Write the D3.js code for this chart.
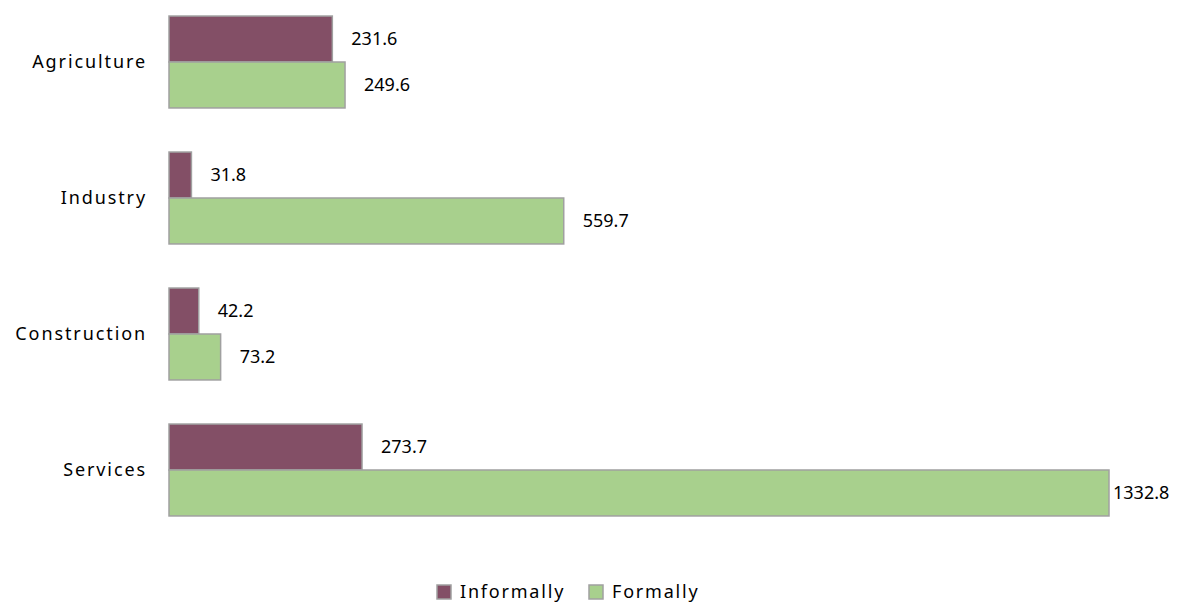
<!DOCTYPE html>
<html><head><meta charset="utf-8">
<script src="https://cdn.jsdelivr.net/npm/d3@7"></script>
<style>body{margin:0;background:#fff}svg{display:block}text{font-family:"Noto Sans",sans-serif;fill:#000}</style>
</head><body>
<script>
const categories = ["Agriculture", "Industry", "Construction", "Services"];
const seriesNames = ["Informally", "Formally"];
const informally = [231.6, 31.8, 42.2, 273.7];
const formally = [249.6, 559.7, 73.2, 1332.8];
const colors = ["#834F66", "#A8D08D"];

const W = 1186, H = 605;
const svg = d3.select("body").append("svg").attr("width", W).attr("height", H);

const x0 = 169, xMaxPx = 1109;
const x = d3.scaleLinear().domain([0, 1332.8]).range([x0, xMaxPx]);
const y = d3.scaleBand().domain(categories).range([-6, 538]).paddingInner(0.324).paddingOuter(0.162);
const ySub = d3.scaleBand().domain(seriesNames).range([0, y.bandwidth()]);

const data = categories.map((c, i) => ({cat: c, vals: [informally[i], formally[i]]}));

const g = svg.append("g");
data.forEach(d => {
  d.vals.forEach((v, j) => {
    const yy = y(d.cat) + ySub(seriesNames[j]);
    g.append("rect")
      .attr("x", x(0)).attr("y", yy)
      .attr("width", x(v) - x(0)).attr("height", ySub.bandwidth())
      .attr("fill", colors[j]).attr("stroke", "#a0a0a0").attr("stroke-width", 1.5);
  });
});
// value labels
data.forEach(d => {
  d.vals.forEach((v, j) => {
    const yy = y(d.cat) + ySub(seriesNames[j]) + ySub.bandwidth() / 2;
    const t = g.append("text").attr("y", yy).attr("dy", "0.35em")
      .attr("font-size", 18).text(v.toFixed(1));
    const w = t.node().getComputedTextLength();
    let tx = x(v) + 19;
    if (tx + w > W - 12) tx = x(v) + 4;
    t.attr("x", tx);
  });
});
// category axis labels
const yAxis = d3.axisLeft(y).tickSize(0).tickPadding(0);
const ax = svg.append("g").attr("transform", `translate(147,0)`).call(yAxis);
ax.select(".domain").remove();
ax.selectAll("text").attr("font-size", 18).style("font-family", '"Noto Sans",sans-serif')
  .style("letter-spacing", "1.9px").attr("fill", "#000");

// legend
const leg = svg.append("g");
const legX = [437, 589];
seriesNames.forEach((s, j) => {
  leg.append("rect").attr("x", legX[j]).attr("y", 585).attr("width", 14).attr("height", 14)
    .attr("fill", colors[j]).attr("stroke", "#a0a0a0").attr("stroke-width", 1.5);
  leg.append("text").attr("x", legX[j] + 23).attr("y", 592).attr("dy", "0.35em")
    .attr("font-size", 18).style("letter-spacing", "1.8px").text(s);
});
</script>
</body></html>
